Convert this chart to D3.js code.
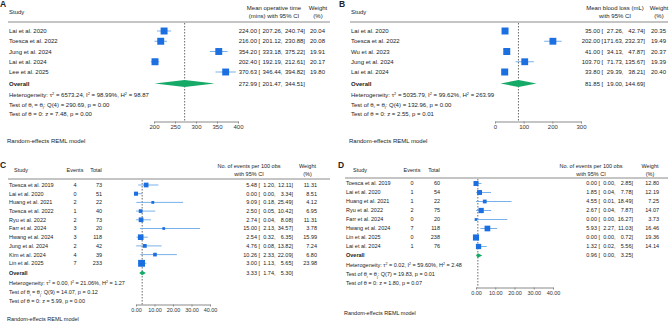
<!DOCTYPE html>
<html lang="en">
<head>
<meta charset="UTF-8">
<title>Forest plots</title>
<style>
  body { margin: 0; background: white; }
  svg { display: block; font-family: "Liberation Sans", Arial, sans-serif; }
</style>
</head>
<body>
<script src="https://d3js.org/d3.v7.min.js"></script>
<script>
// ---- A: operative time ----
const aStudies = ["Lai et al. 2020", "Toesca et al. 2022", "Jung et al. 2024", "Lai et al. 2024", "Lee et al. 2025"];
const aMean = [224.00, 216.00, 354.20, 202.40, 370.63];
const aLow = [207.26, 201.12, 333.18, 192.19, 346.44];
const aHigh = [240.74, 230.88, 375.22, 212.61, 394.82];
const aWeight = [20.04, 20.08, 19.91, 20.17, 19.80];
const aOverall = [272.99, 201.47, 344.51];
const aTicks = [200, 250, 300, 350, 400];
const aStats = ["Heterogeneity: τ^2 = 6573.24, I^2 = 98.99%, H^2 = 98.87",
                "Test of θ_i = θ_j: Q(4) = 290.69, p = 0.00",
                "Test of θ = 0: z = 7.48, p = 0.00"];

// ---- B: blood loss ----
const bStudies = ["Lai et al. 2020", "Toesca et al. 2022", "Wu et al. 2023", "Jung et al. 2024", "Lai et al. 2024"];
const bMean = [35.00, 202.00, 41.00, 103.70, 33.80];
const bLow = [27.26, 171.63, 34.13, 71.73, 29.39];
const bHigh = [42.74, 232.37, 47.87, 135.67, 38.21];
const bWeight = [20.35, 19.49, 20.37, 19.39, 20.40];
const bOverall = [81.85, 19.00, 144.69];
const bTicks = [0, 100, 200, 300];
const bStats = ["Heterogeneity: τ^2 = 5035.79, I^2 = 99.62%, H^2 = 263.99",
                "Test of θ_i = θ_j: Q(4) = 132.96, p = 0.00",
                "Test of θ = 0: z = 2.55, p = 0.01"];

// ---- C: events per 100 obs ----
const cStudies = ["Toesca et al. 2019", "Lai et al. 2020", "Huang et al. 2021", "Toesca et al. 2022", "Ryu et al. 2022",
                  "Farr et al. 2024", "Hwang et al. 2024", "Jung et al. 2024", "Kim et al. 2024", "Lin et al. 2025"];
const cEvents = [4, 0, 2, 1, 2, 3, 3, 2, 4, 7];
const cTotal = [73, 51, 22, 40, 73, 20, 118, 42, 39, 233];
const cRate = [5.48, 0.00, 9.09, 2.50, 2.74, 15.00, 2.54, 4.76, 10.26, 3.00];
const cLow = [1.20, 0.00, 0.18, 0.05, 0.04, 2.13, 0.32, 0.08, 2.33, 1.13];
const cHigh = [12.11, 3.34, 25.49, 10.42, 8.08, 34.57, 6.35, 13.82, 22.09, 5.65];
const cWeight = [11.31, 8.51, 4.12, 6.95, 11.31, 3.78, 15.99, 7.24, 6.80, 23.98];
const cOverall = [3.33, 1.74, 5.30];
const cTicks = [0, 10, 20, 30, 40];
const cStats = ["Heterogeneity: τ^2 = 0.00, I^2 = 21.06%, H^2 = 1.27",
                "Test of θ_i = θ_j: Q(9) = 14.07, p = 0.12",
                "Test of θ = 0: z = 5.99, p = 0.00"];

// ---- D: events per 100 obs ----
const dStudies = ["Toesca et al. 2019", "Lai et al. 2020", "Huang et al. 2021", "Ryu et al. 2022",
                  "Farr et al. 2024", "Hwang et al. 2024", "Lin et al. 2025", "Lai et al. 2024"];
const dEvents = [0, 1, 1, 2, 0, 7, 0, 1];
const dTotal = [60, 54, 22, 75, 20, 118, 238, 76];
const dRate = [0.00, 1.85, 4.55, 2.67, 0.00, 5.93, 0.00, 1.32];
const dLow = [0.00, 0.04, 0.01, 0.04, 0.00, 2.27, 0.00, 0.02];
const dHigh = [2.85, 7.78, 18.49, 7.87, 16.27, 11.03, 0.72, 5.56];
const dWeight = [12.80, 12.19, 7.25, 14.07, 3.73, 16.46, 19.36, 14.14];
const dOverall = [0.96, 0.00, 3.25];
const dTicks = [0, 10, 20, 30, 40];
const dStats = ["Heterogeneity: τ^2 = 0.02, I^2 = 59.60%, H^2 = 2.48",
                "Test of θ_i = θ_j: Q(7) = 19.83, p = 0.01",
                "Test of θ = 0: z = 1.80, p = 0.07"];

const BLUE = "#1c6fe0", CI = "#6aa8e8", GREEN = "#16aa68", TXT = "#222";
const f2 = d3.format(".2f");

let svg = d3.select("body").append("svg")
    .attr("width", 672)
    .attr("height", 322);

// text with ^x superscripts and _x subscripts
function richText(g, x, y, str, fs) {
    let t = g.append("text").attr("x", x).attr("y", y).attr("font-size", fs).attr("fill", TXT);
    let shift = 0;
    str.split(/([_^].)/).forEach(part => {
        if (!part) return;
        let dy, size = fs, txt = part;
        if (part[0] === "^" || part[0] === "_") {
            let target = part[0] === "^" ? -fs * 0.4 : fs * 0.3;
            dy = target - shift; shift = target; size = fs * 0.65; txt = part.slice(1);
        } else {
            dy = -shift; shift = 0;
        }
        t.append("tspan").attr("dy", dy).attr("font-size", size).text(txt);
    });
}

function label(g, x, y, txt, fs, anchor, bold) {
    return g.append("text")
        .attr("x", x).attr("y", y + fs * 0.35)
        .attr("font-size", fs)
        .attr("fill", TXT)
        .attr("text-anchor", anchor || "start")
        .attr("font-weight", bold ? "bold" : null)
        .text(txt);
}

function drawPanel(p) {
    let g = svg.append("g");
    let fs = p.fs;
    let n = p.studies.length;
    let rowY = d3.range(n).map(i => p.row0 + i * p.rowStep);
    let x = d3.scaleLinear().domain(p.domain).range(p.range);

    label(g, p.letter[1], p.letter[2], p.letter[0], 8.5, "start", true);

    // headers
    label(g, p.studyHeadX, p.headY, "Study", fs);
    if (p.events) {
        label(g, p.eventsX, p.headY, "Events", fs, "middle");
        label(g, p.totalX - 6, p.headY, "Total", fs, "middle");
    }
    label(g, p.estHeadX, p.headY - 4, p.estHead[0], fs, "middle");
    label(g, p.estHeadX, p.headY + 4, p.estHead[1], fs, "middle");
    label(g, p.wHeadX, p.headY - 4, "Weight", fs, "middle");
    label(g, p.wHeadX, p.headY + 4, "(%)", fs, "middle");

    g.append("line")
        .attr("x1", p.ruleX[0]).attr("x2", p.ruleX[1])
        .attr("y1", p.ruleY).attr("y2", p.ruleY)
        .attr("stroke", "#8a8a8a").attr("stroke-width", 1);

    // overall reference line
    g.append("line")
        .attr("x1", x(p.overall[0])).attr("x2", x(p.overall[0]))
        .attr("y1", p.ruleY + 1).attr("y2", p.axisY)
        .attr("stroke", "#444").attr("stroke-width", 0.8)
        .attr("stroke-dasharray", "1.5,1.5");

    // confidence intervals
    g.selectAll("line.ci").data(d3.range(n)).join("line")
        .attr("class", "ci")
        .attr("x1", i => x(p.lo[i])).attr("x2", i => x(p.hi[i]))
        .attr("y1", i => rowY[i]).attr("y2", i => rowY[i])
        .attr("stroke", CI).attr("stroke-width", 0.9);

    // study squares, area ~ weight
    let side = i => p.sq * Math.sqrt(p.weight[i]);
    g.selectAll("rect.sq").data(d3.range(n)).join("rect")
        .attr("class", "sq")
        .attr("x", i => x(p.est[i]) - side(i) / 2)
        .attr("y", i => rowY[i] - side(i) / 2)
        .attr("width", side).attr("height", side)
        .attr("fill", BLUE);

    // overall diamond
    let [oe, ol, oh] = p.overall;
    g.append("path")
        .attr("d", `M${x(ol)},${p.overallY} L${x(oe)},${p.overallY - p.dh} L${x(oh)},${p.overallY} L${x(oe)},${p.overallY + p.dh} Z`)
        .attr("fill", GREEN);

    // row text
    function valueText(y, e, l, h) {
        label(g, p.estR, y, f2(e), fs, "end");
        label(g, p.brX, y, "[", fs);
        label(g, p.loR, y, f2(l) + ",", fs, "end");
        label(g, p.hiR, y, f2(h) + "]", fs, "end");
    }
    d3.range(n).forEach(i => {
        label(g, p.studyX, rowY[i], p.studies[i], fs);
        if (p.events) {
            label(g, p.eventsX, rowY[i], p.events[i], fs, "middle");
            label(g, p.totalX, rowY[i], p.total[i], fs, "end");
        }
        valueText(rowY[i], p.est[i], p.lo[i], p.hi[i]);
        label(g, p.wR, rowY[i], f2(p.weight[i]), fs, "end");
    });
    label(g, p.studyX, p.overallY, "Overall", fs, "start", true);
    valueText(p.overallY, oe, ol, oh);

    p.stats.forEach((s, i) => richText(g, p.studyX, p.statY[i] + fs * 0.35, s, fs));
    label(g, p.modelX, p.modelY, "Random-effects REML model", fs);

    // axis
    let ax = g.append("g")
        .attr("transform", `translate(0,${p.axisY})`)
        .call(d3.axisBottom(x).tickValues(p.ticks).tickSize(2).tickSizeOuter(0).tickFormat(p.tickFmt));
    ax.attr("font-family", null).attr("font-size", null);
    ax.select(".domain").attr("stroke", "#8a8a8a");
    ax.selectAll(".tick line").attr("stroke", "#8a8a8a");
    ax.selectAll(".tick text").attr("font-size", fs).attr("fill", "#333").attr("y", 3.5);
}

drawPanel({
    letter: ["A", 0, 4], fs: 6,
    studies: aStudies, est: aMean, lo: aLow, hi: aHigh, weight: aWeight, overall: aOverall,
    stats: aStats, ticks: aTicks, tickFmt: d3.format("d"),
    domain: [200, 400], range: [154, 238],
    studyX: 9, studyHeadX: 9, headY: 11.5, ruleY: 22, ruleX: [8, 330],
    estHead: ["Mean operative time", "(mins) with 95% CI"], estHeadX: 274, wHeadX: 318,
    row0: 31, rowStep: 10.25, overallY: 83.5, dh: 3.5, sq: 1.55,
    statY: [95, 104.5, 114], axisY: 121.5, modelX: 7, modelY: 141,
    estR: 257, brX: 258.5, loR: 282.5, hiR: 305, wR: 325
});

drawPanel({
    letter: ["B", 339, 4], fs: 6,
    studies: bStudies, est: bMean, lo: bLow, hi: bHigh, weight: bWeight, overall: bOverall,
    stats: bStats, ticks: bTicks, tickFmt: d3.format("d"),
    domain: [0, 300], range: [495, 581],
    studyX: 351, studyHeadX: 351, headY: 11.5, ruleY: 22, ruleX: [350, 668],
    estHead: ["Mean blood loss (mL)", "with 95% CI"], estHeadX: 615, wHeadX: 659,
    row0: 31, rowStep: 10.25, overallY: 83.5, dh: 3.5, sq: 1.55,
    statY: [95, 104.5, 114], axisY: 121.5, modelX: 349, modelY: 141,
    estR: 600, brX: 601.5, loR: 623.5, hiR: 645, wR: 666
});

drawPanel({
    letter: ["C", 0, 165], fs: 5.5,
    studies: cStudies, events: cEvents, total: cTotal,
    est: cRate, lo: cLow, hi: cHigh, weight: cWeight, overall: cOverall,
    stats: cStats, ticks: cTicks, tickFmt: d3.format(".2f"),
    domain: [0, 40], range: [136, 210],
    studyX: 9, studyHeadX: 14, headY: 170.5, ruleY: 179, ruleX: [8, 330],
    eventsX: 75, totalX: 102,
    estHead: ["No. of events per 100 obs", "with 95% CI"], estHeadX: 249, wHeadX: 307.5,
    row0: 185, rowStep: 8.7, overallY: 273, dh: 2.3, sq: 1.4,
    statY: [283, 292, 301], axisY: 304.5, modelX: 7, modelY: 319.5,
    estR: 257, brX: 258.5, loR: 275.5, hiR: 293, wR: 317
});

drawPanel({
    letter: ["D", 338, 165], fs: 5.5,
    studies: dStudies, events: dEvents, total: dTotal,
    est: dRate, lo: dLow, hi: dHigh, weight: dWeight, overall: dOverall,
    stats: dStats, ticks: dTicks, tickFmt: d3.format(".2f"),
    domain: [0, 40], range: [476, 553],
    studyX: 346, studyHeadX: 353, headY: 170.5, ruleY: 178, ruleX: [345, 668],
    eventsX: 412, totalX: 440,
    estHead: ["No. of events per 100 obs", "with 95% CI"], estHeadX: 591, wHeadX: 650,
    row0: 183.5, rowStep: 9, overallY: 255.5, dh: 2.3, sq: 1.4,
    statY: [265, 274, 283], axisY: 287.5, modelX: 344, modelY: 313,
    estR: 597, brX: 598.5, loR: 615.5, hiR: 633, wR: 659
});
</script>
</body>
</html>
